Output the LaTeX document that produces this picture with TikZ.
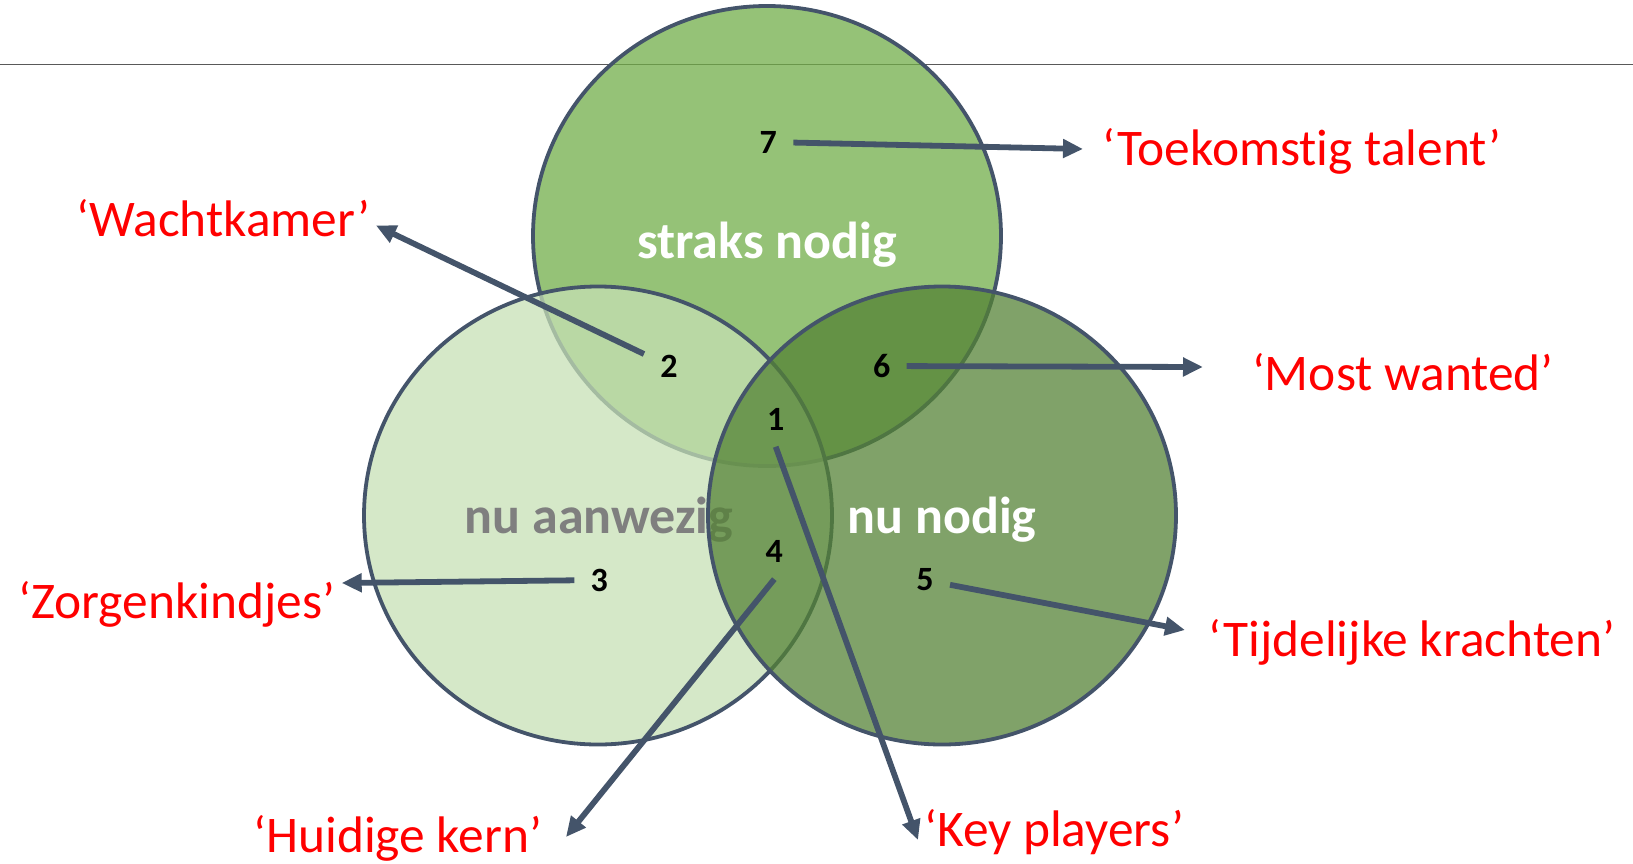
\documentclass[tikz,border=0pt]{standalone}
\usepackage{fontspec}
\setmainfont{Carlito}[Ligatures=NoCommon]
\usetikzlibrary{arrows.meta}
\definecolor{lijn}{HTML}{44546A}
\definecolor{groen}{HTML}{70AD47}
\definecolor{lichtgroen}{HTML}{C6E0B5}
\definecolor{donkergroen}{HTML}{548235}
\definecolor{rood}{HTML}{FF0000}
\definecolor{grijs}{HTML}{7F7F7F}
\definecolor{streep}{HTML}{595959}

\begin{document}
\begin{tikzpicture}[x=0.5pt,y=-0.5pt,
  cirkel/.style={draw=lijn,line width=1.9pt,fill opacity=0.74},
  getal/.style={font=\fontsize{17}{20}\selectfont\bfseries,inner sep=8pt},
  kop/.style={font=\fontsize{26}{30}\selectfont\bfseries,inner sep=0pt,anchor=base},
  rol/.style={font=\fontsize{25.7}{30}\selectfont,text=rood,inner sep=0pt,anchor=base west},
  pijl/.style={draw=lijn,line width=2.9pt,-{Triangle[length=10pt,width=9pt]}}]
\useasboundingbox (0,0) rectangle (1633,863);
% lijn bovenaan
\draw [streep,line width=0.8pt] (0,64.5) -- (1633,64.5);
% de drie cirkels
\draw [cirkel,fill=groen] (767,236) ellipse [x radius=234,y radius=230];
\node [kop,text=white] (straks) at (767,258) {straks nodig};
\draw [cirkel,fill=lichtgroen] (598,515.5) ellipse [x radius=234,y radius=229];
\node [kop,text=grijs] (aanwezig) at (599,533) {nu aanwezig};
\draw [cirkel,fill=donkergroen] (942,515.5) ellipse [x radius=234,y radius=229];
\node [kop,text=white] (nodig) at (942,533) {nu nodig};
% nummers
\node [getal] (n1) at (775.7,419.3) {1};
\node [getal] (n2) at (669,366) {2};
\node [getal] (n3) at (599.3,580) {3};
\node [getal] (n4) at (774.3,551.7) {4};
\node [getal] (n5) at (925,580) {5};
\node [getal] (n6) at (881.7,366) {6};
\node [getal] (n7) at (768.3,142) {7};
% namen
\node [rol] (t1) at (924,846) {‘Key players’};
\node [rol] (t2) at (76,236.7) {‘Wachtkamer’};
\node [rol] (t3) at (18,618) {‘Zorgenkindjes’};
\node [rol] (t4) at (253,852) {‘Huidige kern’};
\node [rol] (t5) at (1208,656.7) {‘Tijdelijke krachten’};
\node [rol] (t6) at (1251.7,390) {‘Most wanted’};
\node [rol] (t7) at (1101.7,165.5) {‘Toekomstig talent’};
% pijlpunten
\coordinate (e1) at (918,840);
\coordinate (e2) at (376,225.5);
\coordinate (e3) at (341.7,583);
\coordinate (e4) at (566,837);
\coordinate (e5) at (1185,630);
\coordinate (e6) at (1203,367);
\coordinate (e7) at (1083,149);
\draw [pijl] (n1.south) -- (e1);
\draw [pijl] (n2) -- (e2);
\draw [pijl] (n3) -- (e3);
\draw [pijl] (n4.south) -- (e4);
\draw [pijl] (n5) -- (e5);
\draw [pijl] (n6) -- (e6);
\draw [pijl] (n7) -- (e7);
\end{tikzpicture}
\end{document}
